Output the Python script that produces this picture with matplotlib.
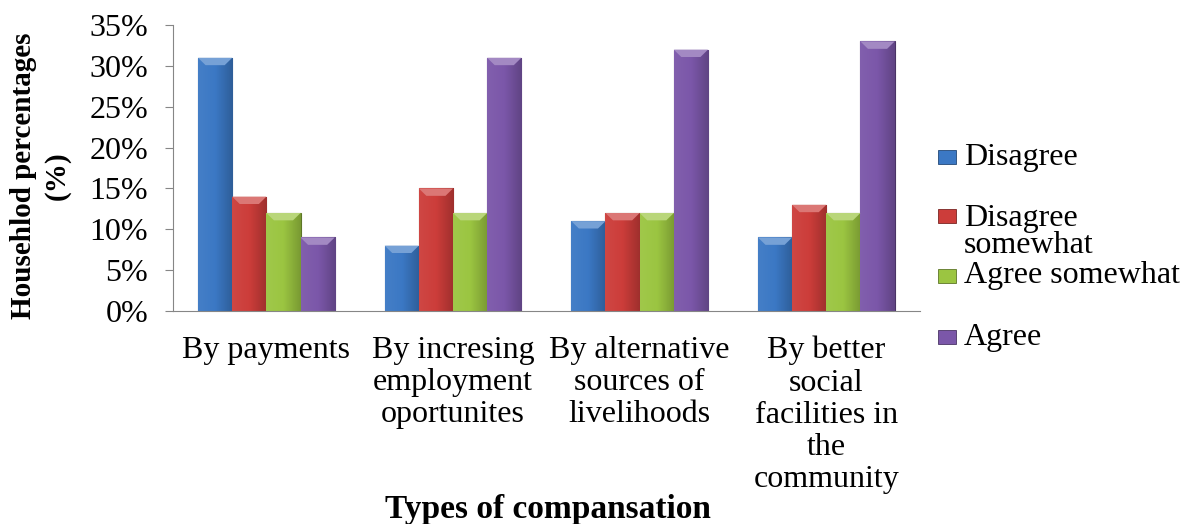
import numpy as np
import matplotlib
matplotlib.use("Agg")
import matplotlib.pyplot as plt
from matplotlib.colors import LinearSegmentedColormap, to_rgb
from matplotlib.patches import Rectangle, Polygon
from matplotlib.ticker import FuncFormatter

# data
categories = ["By payments", "By incresing\nemployment\noportunites",
              "By alternative\nsources of\nlivelihoods",
              "By better\nsocial\nfacilities in\nthe\ncommunity"]
series = ["Disagree", "Disagree\nsomewhat", "Agree somewhat", "Agree"]
disagree = [31, 8, 11, 9]
disagree_somewhat = [14, 15, 12, 13]
agree_somewhat = [12, 12, 12, 12]
agree = [9, 31, 32, 33]
values = [disagree, disagree_somewhat, agree_somewhat, agree]
colors = ["#3b78c4", "#cc3d3a", "#9bc541", "#7b57a9"]

plt.rcParams['font.family'] = ['Liberation Serif', 'DejaVu Serif']

fig = plt.figure(figsize=(11.82, 5.24), dpi=100)
ax = fig.add_axes([0.1464, 0.4065, 0.778 - 0.1464, 0.952 - 0.4065])

def shade(c, f):
    r = np.array(to_rgb(c))
    if f > 0:
        return tuple(r + (1 - r) * f)
    return tuple(r * (1 + f))

x = np.arange(len(categories))
w = 0.183
for i, vals in enumerate(values):
    pos = x + (i - 1.5) * w
    bars = ax.bar(pos, vals, w, color=colors[i], edgecolor=shade(colors[i], -0.4),
                  linewidth=0.8, zorder=2)
    cmap = LinearSegmentedColormap.from_list(
        "g", [shade(colors[i], 0.05), colors[i], shade(colors[i], -0.22)])
    grad = np.linspace(0, 1, 64).reshape(1, -1)
    for b in bars:
        bx, by = b.get_x(), b.get_y()
        bw, bh = b.get_width(), b.get_height()
        im = ax.imshow(grad, cmap=cmap, aspect='auto', extent=[bx, bx + bw, by, by + bh],
                       zorder=2.1, interpolation='bilinear')
        im.set_clip_path(b)
        # lighter bevel at the top
        top = by + bh
        d = bw * 0.22
        ax.add_patch(Polygon([(bx, top), (bx + bw, top), (bx + bw - d, top - 0.9),
                              (bx + d, top - 0.9)], closed=True,
                             facecolor=shade(colors[i], 0.3), linewidth=0, zorder=2.2))

ax.set_xlim(-0.5, len(categories) - 0.5)
ax.set_ylim(0, 35)
ax.set_yticks(np.arange(0, 36, 5))
ax.yaxis.set_major_formatter(FuncFormatter(lambda v, p: f"{v:.0f}%"))
ax.tick_params(axis='y', labelsize=23, length=6, color='#868686', pad=12)
ax.set_xticks(x)
ax.set_xticklabels(categories, fontsize=23, linespacing=1.14)
ax.tick_params(axis='x', length=0, pad=18)
for s in ['top', 'right']:
    ax.spines[s].set_visible(False)
for s in ['left', 'bottom']:
    ax.spines[s].set_color('#868686')

fig.text(0.034, 0.664, "Househlod percentages\n(%)", rotation=90, ha='center', va='center',
         fontsize=21, fontweight='bold', linespacing=1.3)
fig.text(0.4636, 0.027, "Types of compansation", ha='center', va='center',
         fontsize=24, fontweight='bold')

# legend drawn by hand to follow the uneven spacing in the original
leg_y = [157, 216, 276, 337]
for i, lab in enumerate(series):
    yy = 1 - leg_y[i] / 524
    fig.patches.append(Rectangle((0.7936, yy - 0.0134), 0.0152, 0.0267, transform=fig.transFigure,
                                 facecolor=colors[i], edgecolor=shade(colors[i], -0.4),
                                 linewidth=0.6))
    if '\n' in lab:
        fig.text(0.8156, 1 - 232 / 524, lab, ha='left', va='center', fontsize=23,
                 linespacing=0.95)
    else:
        fig.text(0.8156, yy, lab, ha='left', va='center', fontsize=23)

fig.savefig("out.png", dpi=100)
